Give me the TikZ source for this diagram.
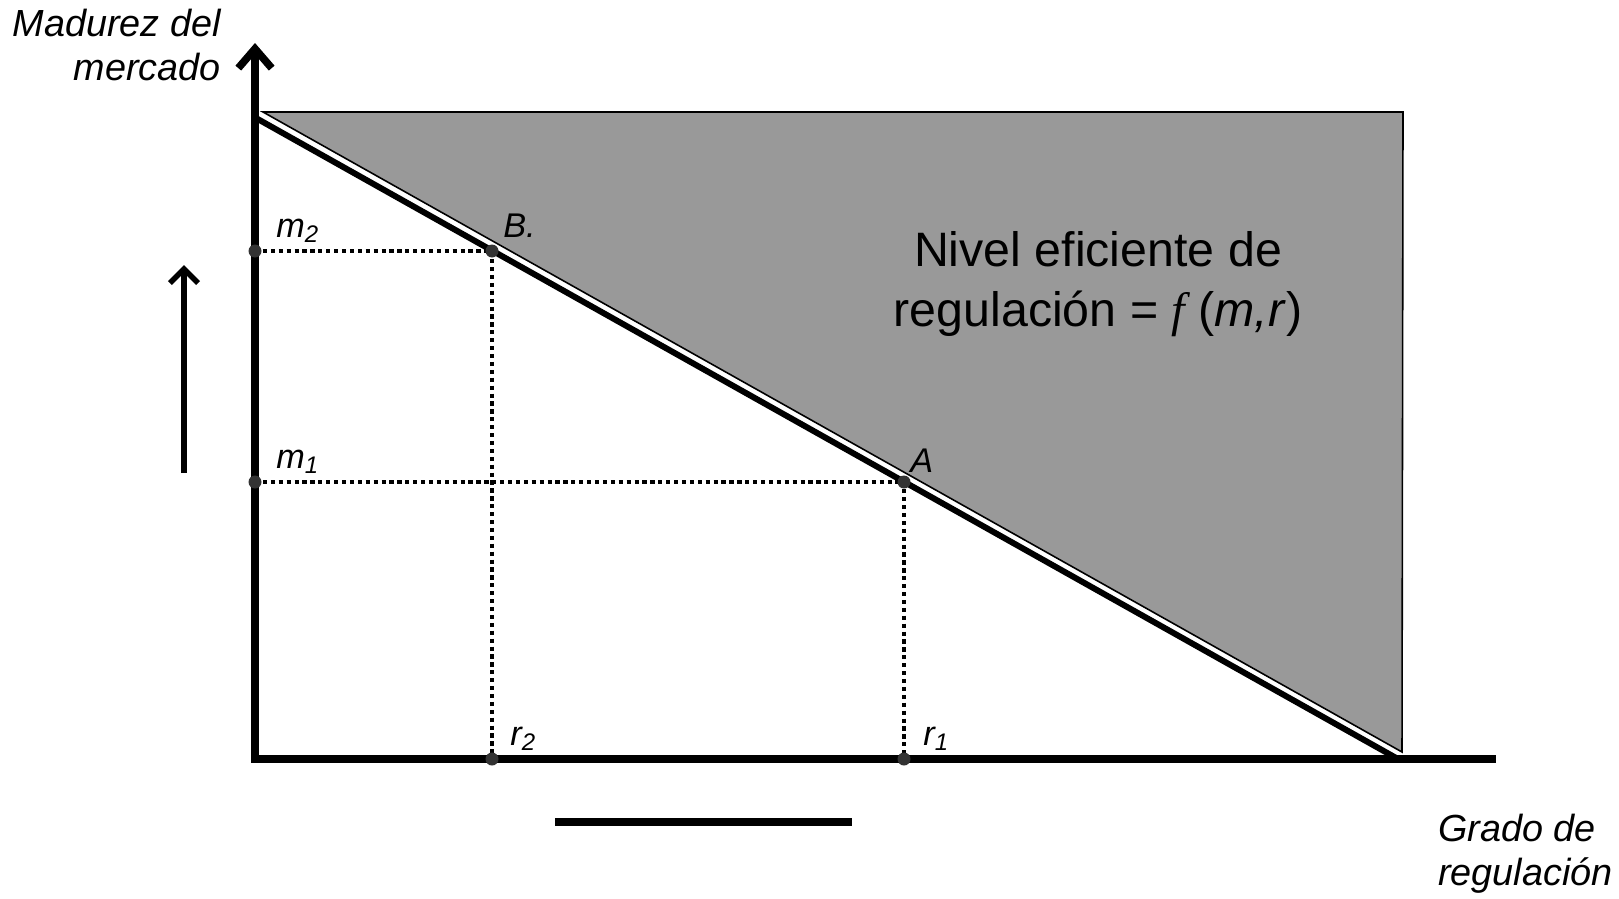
\documentclass[tikz,border=0pt]{standalone}
\usepackage{fontspec}
\setmainfont{Liberation Sans}
\newfontfamily\fserif{Liberation Serif}
\usetikzlibrary{arrows.meta}

\begin{document}
\begin{tikzpicture}[
    x=0.02cm, y=-0.02cm,
    axis/.style={line width=4.3pt, line join=miter},
    guide/.style={line width=2.4pt, dash pattern=on 2.4pt off 2.1pt},
    pt/.style={circle, fill=black!80, inner sep=0pt, minimum size=0.26cm},
    lab/.style={font=\fontsize{19.5}{23}\selectfont\itshape, inner sep=0pt},
    axlab/.style={font=\fontsize{21.5}{25}\selectfont\itshape, inner sep=0pt},
  ]

  \useasboundingbox (0,0) rectangle (1619,899);

  % Shaded region
  \coordinate (T1) at (263,112);
  \coordinate (T2) at (1403,112);
  \coordinate (T3) at (1402,752);
  \draw[line width=0.9pt, fill={rgb,255:red,153;green,153;blue,153}]
    (T1) -- (T2) -- (T3) -- cycle;

  % Frontier line
  \coordinate (Ltop) at (255,117.5);
  \coordinate (Lend) at (1398,759);
  \draw[line width=3.4pt] (Ltop) -- (Lend);

  % Points on the axes and on the line
  \coordinate (m2) at (255,251);
  \coordinate (B)  at (492,251);
  \coordinate (r2) at (492,759);
  \coordinate (m1) at (255,482);
  \coordinate (A)  at (904,482);
  \coordinate (r1) at (904,759);

  % Dotted guides
  \draw[guide] (m2) -- (B) -- (r2);
  \draw[guide] (m1) -- (A) -- (r1);

  % Axes
  \coordinate (O)    at (255,759);
  \coordinate (ytip) at (255,43);
  \coordinate (xend) at (1496,759);
  \draw[axis, {Straight Barb[length=11pt,width=19pt]}-] (ytip) -- (O) -- (xend);

  % Dots
  \foreach \p in {m2,B,r2,m1,A,r1}
    \node[pt] (\p dot) at (\p) {};

  % Point labels
  \node[lab, anchor=base west] (m2lab) at (276,237) {m\textsubscript{2}};
  \node[lab, anchor=base west] (m1lab) at (276,468) {m\textsubscript{1}};
  \node[lab, anchor=base west] (Blab)  at (503,237) {B.};
  \node[lab, anchor=base west] (Alab)  at (910,472) {A};
  \node[lab, anchor=base west] (r2lab) at (510,745) {r\textsubscript{2}};
  \node[lab, anchor=base west] (r1lab) at (923,745) {r\textsubscript{1}};

  % Axis titles
  \node[axlab, align=right, anchor=north east] (ylab) at (221,9) {Madurez del\\mercado};
  \node[axlab, align=left, anchor=north west] (xlab) at (1438,814) {Grado de\\regulación};

  % Region text
  \node[font=\fontsize{27.5}{34}\selectfont, align=center, anchor=north, inner sep=0pt] (eff)
    at (1098,231) {Nivel eficiente de\\regulación = {\fserif\itshape f} (\textit{m,r})};

  % Shift arrow and bar
  \draw[line width=3.2pt, -{Straight Barb[length=8pt,width=16pt]}] (184,473) -- (184,265);
  \draw[line width=4pt] (555,822) -- (852,822);

\end{tikzpicture}
\end{document}
